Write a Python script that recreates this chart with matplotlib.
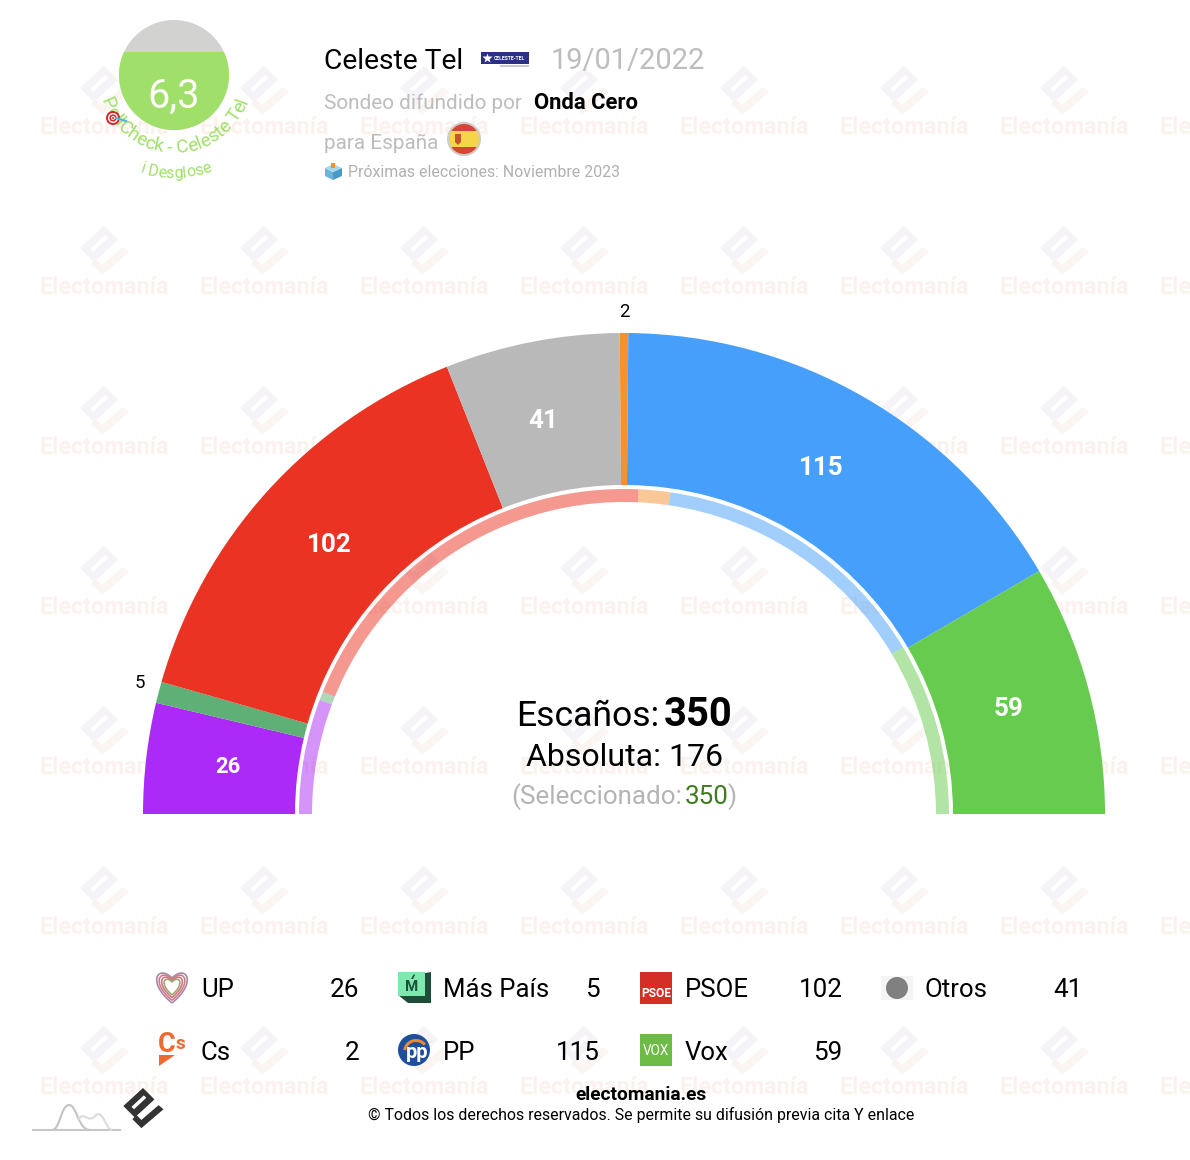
import numpy as np
import matplotlib
matplotlib.use('Agg')
import matplotlib.pyplot as plt
from matplotlib.patches import Wedge, Circle, Rectangle, Polygon, PathPatch
from matplotlib.path import Path

plt.rcParams['font.family'] = ['Roboto', 'DejaVu Sans']

# data
partidos = ['UP', 'Más País', 'PSOE', 'Otros', 'Cs', 'PP', 'Vox']
escanos = [26, 5, 102, 41, 2, 115, 59]
colores = ['#ab2af7', '#5fb077', '#ea3323', '#b9b9b9', '#f5922e', '#469ffa', '#66cb4e']
# anillo interior (estimado a ojo)
anillo_valores = [40, 3, 137, 11, 99, 60]
anillo_colores = ['#ab2af7', '#5fb077', '#ea3323', '#f5922e', '#469ffa', '#66cb4e']
total = 350
absoluta = 176
nota = 6.3

CX, CY = 624, 814

fig = plt.figure(figsize=(11.9, 11.6), dpi=100)
ax = fig.add_axes([0, 0, 1, 1])
ax.set_xlim(0, 1190)
ax.set_ylim(1160, 0)
ax.axis('off')


def px(n):
    return n * 0.72


def logo(cx, cy, col1, col2, z=1, esc=1.0):
    # rombo + ranura + L
    rombo = np.array([(0, -22), (14, -8), (-10, 14), (-24, 0)]) * esc + (cx, cy)
    ranura = np.array([(1, -13), (4, -10), (-11, 4), (-14, 1)]) * esc + (cx, cy)
    ele = np.array([(19, -1), (25, 4), (-2, 27), (-13, 16), (-8, 11), (-2, 17)]) * esc + (cx, cy)
    ax.add_patch(Polygon(rombo, fc=col1, ec='none', zorder=z))
    ax.add_patch(Polygon(ranura, fc='white', ec='none', zorder=z))
    ax.add_patch(Polygon(ele, fc=col2, ec='none', zorder=z))


# marca de agua
for fila in range(7):
    for col in range(8):
        x0 = 103 + 160 * col
        y0 = 88 + 160 * fila
        logo(x0 + 1, y0, '#f5f2f8', '#faf5f1')
        ax.text(x0 + 1, y0 + 46, 'Electomanía', fontsize=px(23.3), fontweight='bold',
                color='#fcf2ed', ha='center', va='baseline', zorder=1, clip_on=True)

# hemiciclo
ajuste_x = [1, 0, 2, -4, 0, -3, -1]
acum = 0
for v, c, dx in zip(escanos, colores, ajuste_x):
    t1 = 180 + acum * 180 / total
    t2 = 180 + (acum + v) * 180 / total
    ax.add_patch(Wedge((CX, CY), 481, t1, t2, width=481 - 329, fc=c, ec='none', zorder=3))
    tm = np.radians((t1 + t2) / 2)
    if v >= 10:
        tam = 26 if v > 26 else 22
        ax.text(CX + 400 * np.cos(tm) + dx, CY + 400 * np.sin(tm), str(v), color='white',
                fontsize=px(tam), fontweight='bold', ha='center', va='center', zorder=4)
    else:
        ax.text(CX + 500.5 * np.cos(tm), CY + 502 * np.sin(tm) - 4 * abs(np.cos(tm)), str(v), color='black',
                fontsize=px(18.5), ha='center', va='center', zorder=4)
    acum += v

acum = 0
for v, c in zip(anillo_valores, anillo_colores):
    t1 = 180 + acum * 180 / total
    t2 = 180 + (acum + v) * 180 / total
    ax.add_patch(Wedge((CX, CY), 325, t1, t2, width=13, fc=c, ec='none', alpha=0.5, zorder=3))
    acum += v

# centro
ax.text(516, 726, 'Escaños:', fontsize=px(35.5), color='black', zorder=4)
ax.text(664, 726, str(total), fontsize=px(40), fontweight='bold', color='black', zorder=4)
ax.text(624, 766, 'Absoluta: %d' % absoluta, fontsize=px(32), color='black', ha='center', zorder=4)
ax.text(511, 804, '(Seleccionado:', fontsize=px(26), color='#b4b4b4', zorder=4)
ax.text(685, 804, str(total), fontsize=px(26), color='#3e7d1e', zorder=4)
ax.text(727, 804, ')', fontsize=px(26), color='#b4b4b4', zorder=4)

# cabecera
ax.text(324, 69, 'Celeste Tel', fontsize=px(28.2), color='black', zorder=4)
ax.text(551, 69, '19/01/2022', fontsize=px(29), color='#bdbdbd', zorder=4)
ax.text(324, 109, 'Sondeo difundido por', fontsize=px(20.8), color='#bdbdbd', zorder=4)
ax.text(534, 109, 'Onda Cero', fontsize=px(22), fontweight='bold', color='black', zorder=4)
ax.text(324, 149, 'para España', fontsize=px(20.8), color='#bdbdbd', zorder=4)
ax.text(348, 177, 'Próximas elecciones: Noviembre 2023', fontsize=px(15.95), color='#b0b0b0', zorder=4)

# logo Celeste Tel
ax.add_patch(Rectangle((481, 52), 48, 12, fc='#2b2f86', ec='none', zorder=4))
ax.add_patch(Rectangle((500, 65), 29, 1.5, fc='#c8c8d8', ec='none', zorder=4))
ax.plot([487], [58], marker='*', ms=7, color='white', mec='none', zorder=5)
ax.text(509, 58, 'CELESTE-TEL', fontsize=3.6, fontweight='bold', color='white',
        ha='center', va='center', zorder=5)

# bandera
ax.add_patch(Circle((464, 139), 16, fc='#f6d54a', ec='#cccccc', lw=1.5, zorder=4))
for y0, h in [(123, 8), (147, 8)]:
    r = Rectangle((447, y0), 34, h, fc='#d6453c', ec='none', zorder=4)
    ax.add_patch(r)
    r.set_clip_path(Circle((464, 139), 15, transform=ax.transData))
ax.add_patch(Polygon([(455, 134), (461, 134), (461, 142), (458, 145), (455, 142)], fc='#c4552f', ec='none', zorder=5))

# urna
ax.add_patch(Polygon([(325, 168), (333, 172), (333, 180), (325, 176)], fc='#6bb5d8', ec='none', zorder=4))
ax.add_patch(Polygon([(333, 172), (342, 168), (342, 176), (333, 180)], fc='#4a9ac4', ec='none', zorder=4))
ax.add_patch(Polygon([(325, 168), (333, 164), (342, 168), (333, 172)], fc='#a5d8ea', ec='none', zorder=4))
ax.add_patch(Rectangle((331, 163), 4, 5, fc='#e8923a', ec='none', zorder=5))

# nota
ax.add_patch(Circle((174, 75), 55, fc='#d2d2d0', ec='none', zorder=4))
verde = Rectangle((110, 52), 130, 90, fc='#a0e06a', ec='none', zorder=4)
ax.add_patch(verde)
verde.set_clip_path(Circle((174, 75), 55, transform=ax.transData))
ax.text(174, 108, ('%.1f' % nota).replace('.', ','), color='white', fontsize=px(39.5), ha='center', zorder=5)


def texto_arco(s, cx, cy, r, centro, tam, color):
    rend = fig.canvas.get_renderer()
    t = ax.text(0, 0, '', fontsize=px(tam))
    anchos = []
    for i in range(len(s) + 1):
        t.set_text('|' + s[:i] + '|')
        anchos.append(t.get_window_extent(rend).width)
    t.remove()
    anchos = np.array(anchos) - anchos[0]
    for i, ch in enumerate(s):
        if ch == ' ':
            continue
        pos = (anchos[i] + anchos[i + 1]) / 2 - anchos[-1] / 2
        a = pos / r + np.radians(centro)
        ax.text(cx + r * np.sin(a), cy + r * np.cos(a), ch, fontsize=px(tam), color=color,
                rotation=np.degrees(a), rotation_mode='anchor', ha='center', va='baseline', zorder=5)


texto_arco('PollCheck - Celeste Tel', 174, 75, 78, 0, 19, '#a0e06a')
texto_arco('i Desglose', 174, 75, 103, 1, 16, '#a0e06a')

# diana
for r, c in [(7, '#d8262c'), (5, 'white'), (3.6, '#d8262c'), (2, 'white'), (1, '#d8262c')]:
    ax.add_patch(Circle((113, 118), r, fc=c, ec='none', zorder=6))
ax.plot([116, 126], [118, 121], color='#4fb8d8', lw=1.6, zorder=6)

# leyenda
col_x = [201, 443, 685, 925]
col_val = [359, 600, 843, 1083]
fila_y = [997, 1060]
for i, (n, v) in enumerate(zip(partidos, escanos)):
    f, c = (0, i) if i < 4 else (1, i - 4)
    ax.text(col_x[c], fila_y[f], n, fontsize=px(25.7), color='black', zorder=4)
    ax.text(col_val[c] - (1 if n == 'Vox' else 0), fila_y[f], str(v), fontsize=px(26), color='black', ha='right', zorder=4)

# UP
corazon = Path([(172, 1003), (146, 982), (158, 964), (172, 978), (186, 964), (198, 982), (172, 1003)],
               [Path.MOVETO, Path.CURVE4, Path.CURVE4, Path.CURVE4, Path.CURVE4, Path.CURVE4, Path.CURVE4])
for esc, c in [(1.0, '#a98aa8'), (0.84, '#c9808c'), (0.68, '#d9747e'), (0.52, '#9aa878')]:
    v = (corazon.vertices - (172, 986)) * esc + (172, 986)
    ax.add_patch(PathPatch(Path(v, corazon.codes), fc='none', ec=c, lw=1.2, zorder=4))
# Mas Pais
ax.add_patch(Polygon([(403, 977), (431, 972), (431, 1003), (408, 1003), (398, 995)], fc='#1f4d3a', ec='none', zorder=4))
ax.add_patch(Rectangle((398, 972), 27, 24, fc='#7fe8ae', ec='none', zorder=5))
ax.text(411.5, 991, 'M', fontsize=px(15), fontweight='bold', color='#1f4d3a', ha='center', zorder=6)
ax.add_patch(Polygon([(411, 979), (414, 974), (415, 975), (413, 979)], fc='#1f4d3a', ec='none', zorder=6))
# PSOE
ax.add_patch(Rectangle((640, 972), 32, 32, fc='#d32f27', ec='none', zorder=4))
ax.text(656, 997, 'PSOE', fontsize=px(12), fontweight='bold', color='white', ha='center', zorder=5)
# Otros
ax.add_patch(Rectangle((881, 976), 32, 24, fc='#f4f4f4', ec='none', zorder=4))
ax.add_patch(Circle((897, 988), 11, fc='#808080', ec='none', zorder=5))
# Cs
ax.text(158, 1052, 'C', fontsize=px(27), fontweight='bold', color='#ef6a2e', zorder=4)
ax.text(175, 1049, 's', fontsize=px(19), fontweight='bold', color='#ef6a2e', zorder=4)
ax.add_patch(Polygon([(159, 1055), (175, 1055), (159, 1066)], fc='#ef6a2e', ec='none', zorder=4))
# PP
ax.add_patch(Circle((414, 1050), 16, fc='#1d4f9e', ec='none', zorder=4))
ax.add_patch(Wedge((416, 1052), 13, 190, 320, width=3, fc='#ef8a2e', ec='none', zorder=5))
ax.text(417, 1058, 'pp', fontsize=px(20), fontweight='bold', color='white', ha='center', zorder=6)
# Vox
ax.add_patch(Rectangle((640, 1034), 32, 32, fc='#6dbb45', ec='none', zorder=4))
ax.text(656, 1055, 'VOX', fontsize=px(13.5), color='white', ha='center', zorder=5)

# pie
ax.text(641.5, 1100, 'electomania.es', fontsize=px(19.2), fontweight='bold', color='black', ha='center', zorder=4)
ax.text(641.5, 1120, '© Todos los derechos reservados. Se permite su difusión previa cita Y enlace',
        fontsize=px(15.9), color='black', ha='center', zorder=4)

logo(143, 1106, '#333333', '#333333', z=4, esc=0.82)
ax.plot([33, 120], [1130, 1130], color='#c8c8c8', lw=1.5, zorder=4)
m1 = Path([(52, 1130), (60, 1130), (61, 1105), (69, 1105), (77, 1105), (78, 1130), (90, 1130)],
          [Path.MOVETO, Path.CURVE4, Path.CURVE4, Path.CURVE4, Path.CURVE4, Path.CURVE4, Path.CURVE4])
m2 = Path([(78, 1120), (84, 1110), (88, 1124), (95, 1116), (103, 1108), (106, 1130), (112, 1130)],
          [Path.MOVETO, Path.CURVE4, Path.CURVE4, Path.CURVE4, Path.CURVE4, Path.CURVE4, Path.CURVE4])
ax.add_patch(PathPatch(m1, fc='none', ec='#c4c4c4', lw=1.5, zorder=4))
ax.add_patch(PathPatch(m2, fc='none', ec='#dcdcdc', lw=1.5, zorder=4))

fig.savefig('out.png', dpi=100, facecolor='white')
